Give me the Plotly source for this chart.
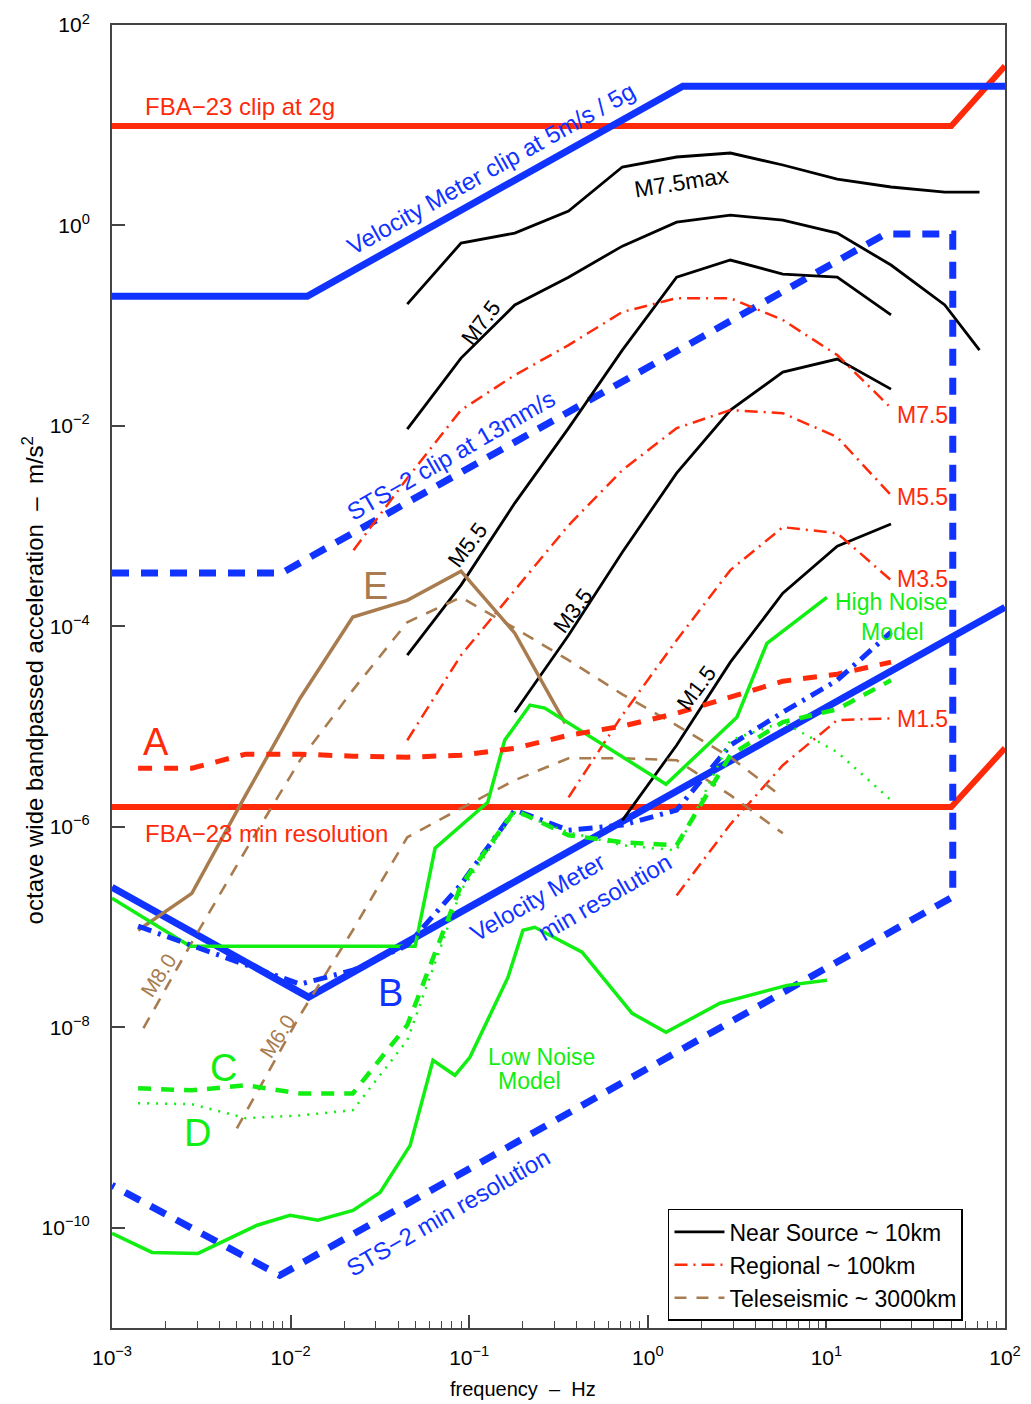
import plotly.graph_objects as go

# ---------------- data (Hz, m/s^2) ----------------
# instrument limits
f_fba = [0.001, 50, 100]
a_fba_clip = [9.8, 9.8, 39]
a_fba_res = [1.58e-6, 1.58e-6, 6.1e-6]

f_vm_clip = [0.001, 0.0124, 1.57, 100]
a_vm_clip = [0.197, 0.197, 24.5, 24.5]

f_vm_res = [0.001, 0.0126, 100]
a_vm_res = [2.5e-7, 2.0e-8, 1.55e-4]

f_sts = [0.001, 0.0089, 21.3, 51, 51, 0.0087, 0.001]
a_sts = [3.4e-4, 3.4e-4, 0.82, 0.82, 2.0e-7, 3.35e-11, 2.65e-10]

# near source (~10 km)
f_ns_12 = [0.045, 0.09, 0.18, 0.36, 0.72, 1.45, 2.9, 5.7, 11.5, 23, 46, 72]
a_ns_m75max = [0.164, 0.667, 0.839, 1.39, 3.83, 4.82, 5.28, 4.01, 2.90, 2.42, 2.15, 2.15]
a_ns_m75 = [0.00929, 0.0475, 0.161, 0.305, 0.622, 1.08, 1.27, 1.13, 0.839, 0.403, 0.161, 0.0571]
f_ns_m55 = [0.045, 0.09, 0.18, 0.36, 0.72, 1.45, 2.9, 5.7, 11.5, 23]
a_ns_m55 = [5.16e-5, 2.58e-4, 1.70e-3, 9.5e-3, 0.057, 0.305, 0.452, 0.327, 0.305, 0.128]
f_ns_m35 = [0.18, 0.36, 0.72, 1.45, 2.9, 5.7, 11.5, 23]
a_ns_m35 = [1.39e-5, 8.17e-5, 5.5e-4, 3.38e-3, 0.0144, 0.0344, 0.0465, 0.0233]
f_ns_m15 = [0.72, 1.45, 2.9, 5.7, 11.5, 23]
a_ns_m15 = [1.16e-6, 6.52e-6, 4.40e-5, 2.14e-4, 6.31e-4, 1.05e-3]

# regional (~100 km)
f_rg_m75 = [0.0225, 0.045, 0.09, 0.18, 0.36, 0.72, 1.45, 2.9, 5.7, 11.5, 23]
a_rg_m75 = [5.75e-4, 3.01e-3, 0.0144, 0.0321, 0.064, 0.137, 0.188, 0.188, 0.114, 0.0509, 0.0151]
f_rg_m55 = [0.045, 0.09, 0.18, 0.36, 0.72, 1.45, 2.9, 5.7, 11.5, 23]
a_rg_m55 = [7.31e-6, 5.16e-5, 2.30e-4, 1.02e-3, 3.62e-3, 9.5e-3, 0.0144, 0.0134, 7.73e-3, 2.04e-3]
f_rg_m35 = [0.36, 0.72, 1.45, 2.9, 5.7, 11.5, 23]
a_rg_m35 = [1.97e-6, 1.30e-5, 7.28e-5, 3.64e-4, 9.77e-4, 8.51e-4, 2.89e-4]
f_rg_m15 = [1.45, 2.9, 5.7, 11.5, 23]
a_rg_m15 = [2.07e-7, 1.06e-6, 4.12e-6, 1.16e-5, 1.21e-5]

# teleseismic (~3000 km)
f_tl_m80 = [0.0015, 0.0028, 0.0056, 0.0113, 0.0223, 0.045, 0.09, 0.18, 0.36, 0.72, 1.45, 2.9, 5.7]
a_tl_m80 = [9.8e-9, 7.05e-8, 5.83e-7, 4.62e-6, 2.31e-5, 1.10e-4, 1.95e-4, 9.6e-5, 4.60e-5, 2.10e-5, 1.03e-5, 4.95e-6, 1.97e-6]
f_tl_m60 = [0.005, 0.0113, 0.0223, 0.045, 0.09, 0.18, 0.36, 0.72, 1.45, 2.9, 5.7]
a_tl_m60 = [9.8e-10, 1.32e-8, 9.3e-8, 7.87e-7, 1.53e-6, 2.92e-6, 4.84e-6, 4.84e-6, 4.62e-6, 2.07e-6, 8.63e-7]
f_E = [0.0014, 0.0028, 0.0056, 0.0113, 0.0223, 0.045, 0.09, 0.18, 0.345]
a_E = [9.3e-8, 2.17e-7, 2.07e-6, 1.92e-5, 1.24e-4, 1.82e-4, 3.56e-4, 8.55e-5, 1.08e-5]

# signals A-D
f_abcd = [0.0014, 0.0028, 0.0056, 0.0113, 0.0223, 0.045, 0.09, 0.18, 0.36, 0.72, 1.45, 2.9, 5.7, 11.5, 23]
a_A = [3.85e-6, 3.85e-6, 5.31e-6, 5.31e-6, 5.07e-6, 4.95e-6, 5.19e-6, 6.08e-6, 8.2e-6, 1.01e-5, 1.36e-5, 1.96e-5, 2.84e-5, 3.33e-5, 4.40e-5]
a_B = [1.02e-7, 6.58e-8, 4.26e-8, 2.69e-8, 3.71e-8, 6.58e-8, 2.67e-7, 1.47e-6, 9.25e-7, 1.04e-6, 1.47e-6, 6.52e-6, 1.39e-5, 2.90e-5, 8.75e-5]
a_C = [2.46e-9, 2.35e-9, 2.64e-9, 2.19e-9, 2.19e-9, 1.05e-8, 2.61e-7, 1.47e-6, 8.24e-7, 7.02e-7, 6.55e-7, 5.19e-6, 1.11e-5, 1.49e-5, 2.90e-5]
a_D = [1.75e-9, 1.71e-9, 1.24e-9, 1.32e-9, 1.49e-9, 7.41e-9, 2.33e-7, 1.40e-6, 8.83e-7, 6.55e-7, 5.83e-7, 7.31e-6, 1.11e-5, 5.56e-6, 1.85e-6]

# noise models
f_hnm = [0.001, 0.00274, 0.0498, 0.0644, 0.127, 0.158, 0.219, 0.265, 1.265, 3.155, 4.645, 10.07]
a_hnm = [1.94e-7, 6.43e-8, 6.43e-8, 6.11e-7, 1.76e-6, 7.31e-6, 1.64e-5, 1.53e-5, 2.66e-6, 1.24e-5, 6.79e-5, 1.95e-4]
f_lnm = [0.001, 0.001675, 0.00303, 0.00649, 0.00993, 0.01422, 0.02234, 0.0317, 0.0467, 0.0627, 0.0832,
         0.1009, 0.165, 0.200, 0.233, 0.4285, 0.817, 1.265, 2.535, 6.01, 10.07]
a_lnm = [8.79e-11, 5.68e-11, 5.55e-11, 1.06e-10, 1.33e-10, 1.19e-10, 1.49e-10, 2.25e-10, 6.64e-10, 4.69e-9, 3.32e-9,
         5.02e-9, 3.16e-8, 9.29e-8, 9.95e-8, 5.61e-8, 1.38e-8, 8.91e-9, 1.74e-8, 2.62e-8, 2.94e-8]

# axes ticks
x_tickvals = [1e-3, 1e-2, 1e-1, 1e0, 1e1, 1e2]
x_ticktext = ["10<sup>−3</sup>", "10<sup>−2</sup>", "10<sup>−1</sup>", "10<sup>0</sup>", "10<sup>1</sup>", "10<sup>2</sup>"]
y_tickvals = [1e2, 1e0, 1e-2, 1e-4, 1e-6, 1e-8, 1e-10]
y_ticktext = ["10<sup>2</sup>", "10<sup>0</sup>", "10<sup>−2</sup>", "10<sup>−4</sup>", "10<sup>−6</sup>",
              "10<sup>−8</sup>", "10<sup>−10</sup>"]
x_minor = [m * 10.0 ** e for e in range(-3, 2) for m in range(2, 10)]

# ---------------- styles ----------------
RED = "#ff2a0a"
BLUE = "#1033ff"
GREEN = "#11ee11"
BROWN = "#a97c4f"
BLACK = "#000000"
FONT = "Liberation Sans, Arial, Helvetica, sans-serif"

fig = go.Figure()


def add(x, y, color, width, dash="solid", name=None, legend=False, rank=None):
    fig.add_trace(go.Scatter(
        x=x, y=y, mode="lines", name=name or "", showlegend=legend,
        line=dict(color=color, width=width, dash=dash),
        legendrank=rank if rank else 1000, hoverinfo="skip"))


# instrument limits
add(f_fba, a_fba_clip, RED, 6)
add(f_fba, a_fba_res, RED, 6)
add(f_vm_clip, a_vm_clip, BLUE, 7)
add(f_vm_res, a_vm_res, BLUE, 7)
add(f_sts, a_sts, BLUE, 7, "17px,12px")

# near source
NSW = 2.8
add(f_ns_12, a_ns_m75max, BLACK, NSW, name="Near Source ~ 10km", legend=True, rank=1)
add(f_ns_12, a_ns_m75, BLACK, NSW)
add(f_ns_m55, a_ns_m55, BLACK, NSW)
add(f_ns_m35, a_ns_m35, BLACK, NSW)
add(f_ns_m15, a_ns_m15, BLACK, NSW)

# regional
RDASH = "13px,6px,2px,6px"
add(f_rg_m75, a_rg_m75, RED, 2.5, RDASH, name="Regional ~ 100km", legend=True, rank=2)
add(f_rg_m55, a_rg_m55, RED, 2.5, RDASH)
add(f_rg_m35, a_rg_m35, RED, 2.5, RDASH)
add(f_rg_m15, a_rg_m15, RED, 2.5, RDASH)

# teleseismic
TDASH = "12px,10px"
add(f_tl_m80, a_tl_m80, BROWN, 2.6, TDASH, name="Teleseismic ~ 3000km", legend=True, rank=3)
add(f_tl_m60, a_tl_m60, BROWN, 2.6, TDASH)
add(f_E, a_E, BROWN, 3.5)

# noise models
add(f_hnm, a_hnm, GREEN, 3.5)
add(f_lnm, a_lnm, GREEN, 3.5)

# signals
add(f_abcd, a_A, RED, 5, "14px,12px")
add(f_abcd, a_B, BLUE, 5, "14px,7px,3px,7px")
add(f_abcd, a_C, GREEN, 4.5, "13px,10px")
add(f_abcd, a_D, GREEN, 2.5, "2px,7px")

# ---------------- labels ----------------
labels = [
    # text, xlog, ylog, angle, size, color, xanchor
    ("FBA−23 clip at 2g", -2.826, 1.182, 0, 24, RED, "left"),
    ("Velocity Meter clip at 5m/s / 5g", -0.878, 0.573, -29.3, 24, BLUE, "center"),
    ("STS−2 clip at 13mm/s", -1.107, -2.291, -30, 24, BLUE, "center"),
    ("M7.5max", 0.191, 0.433, -9, 23, BLACK, "center"),
    ("M7.5", -0.934, -0.964, -53, 22, BLACK, "center"),
    ("M5.5", -1.012, -3.190, -53, 22, BLACK, "center"),
    ("M3.5", -0.419, -3.838, -53, 22, BLACK, "center"),
    ("M1.5", 0.270, -4.617, -53, 22, BLACK, "center"),
    ("M7.5", 1.384, -1.892, 0, 23, RED, "left"),
    ("M5.5", 1.384, -2.711, 0, 23, RED, "left"),
    ("M3.5", 1.384, -3.529, 0, 23, RED, "left"),
    ("M1.5", 1.384, -4.926, 0, 23, RED, "left"),
    ("High Noise", 1.367, -3.759, 0, 23, GREEN, "center"),
    ("Model", 1.372, -4.058, 0, 23, GREEN, "center"),
    ("Low Noise", -0.598, -8.299, 0, 23, GREEN, "center"),
    ("Model", -0.660, -8.539, 0, 23, GREEN, "center"),
    ("A", -2.754, -5.156, 0, 38, RED, "center"),
    ("E", -1.522, -3.599, 0, 38, BROWN, "center"),
    ("B", -1.443, -7.661, 0, 38, BLUE, "center"),
    ("C", -2.373, -8.409, 0, 38, GREEN, "center"),
    ("D", -2.524, -9.058, 0, 38, GREEN, "center"),
    ("FBA−23 min resolution", -2.826, -6.064, 0, 24, RED, "left"),
    ("Velocity Meter", -0.620, -6.703, -30, 24, BLUE, "center"),
    ("min resolution", -0.245, -6.703, -30, 24, BLUE, "center"),
    ("STS−2 min resolution", -1.119, -9.846, -30, 24, BLUE, "center"),
    ("M8.0", -2.742, -7.481, -57, 21, BROWN, "center"),
    ("M6.0", -2.076, -8.090, -57, 21, BROWN, "center"),
]
for t, xl, yl, ang, sz, col, xa in labels:
    fig.add_annotation(x=xl, y=yl, xref="x", yref="y", text=t, showarrow=False,
                       textangle=ang, xanchor=xa, yanchor="middle",
                       font=dict(family=FONT, size=sz, color=col))

fig.add_annotation(x=-0.0885, y=0.497, xref="paper", yref="paper",
                   text="octave wide bandpassed acceleration  –  m/s<sup>2</sup>",
                   showarrow=False, textangle=-90, xanchor="center", yanchor="middle",
                   font=dict(family=FONT, size=24, color=BLACK))
fig.add_annotation(x=0.46, y=-0.0465, xref="paper", yref="paper",
                   text="frequency  –  Hz", showarrow=False, xanchor="center", yanchor="middle",
                   font=dict(family=FONT, size=20, color=BLACK))

AX = "#444444"
fig.update_xaxes(type="log", range=[-3, 2], showgrid=False, zeroline=False, automargin=False,
                 showline=True, linecolor=AX, linewidth=2, mirror=True,
                 ticks="inside", ticklen=13, tickwidth=1.5, tickcolor=AX,
                 tickmode="array", tickvals=x_tickvals, ticktext=x_ticktext,
                 ticklabelstandoff=10,
                 minor=dict(ticks="inside", ticklen=7, tickwidth=1.2, tickcolor=AX,
                            tickmode="array", tickvals=x_minor, showgrid=False),
                 tickfont=dict(family=FONT, size=21, color=BLACK))
fig.update_yaxes(type="log", range=[-11, 2], showgrid=False, zeroline=False, automargin=False,
                 showline=True, linecolor=AX, linewidth=2, mirror=True,
                 ticks="inside", ticklen=13, tickwidth=1.5, tickcolor=AX,
                 tickmode="array", tickvals=y_tickvals, ticktext=y_ticktext,
                 ticklabelstandoff=16,
                 tickfont=dict(family=FONT, size=21, color=BLACK))

# page body has an 8px margin: shrink the figure so the plot area lands where the reference has it
fig.update_layout(
    width=1023, height=1396,
    margin=dict(l=104, r=26, t=17, b=76, autoexpand=False),
    plot_bgcolor="white", paper_bgcolor="white",
    font=dict(family=FONT, color=BLACK),
    legend=dict(x=0.6226, y=0.0054, xanchor="left", yanchor="bottom",
                bgcolor="white", bordercolor="black", borderwidth=1.5,
                font=dict(family=FONT, size=23, color=BLACK),
                itemwidth=50, tracegroupgap=0),
    showlegend=True,
)

fig.write_html("out.html")
